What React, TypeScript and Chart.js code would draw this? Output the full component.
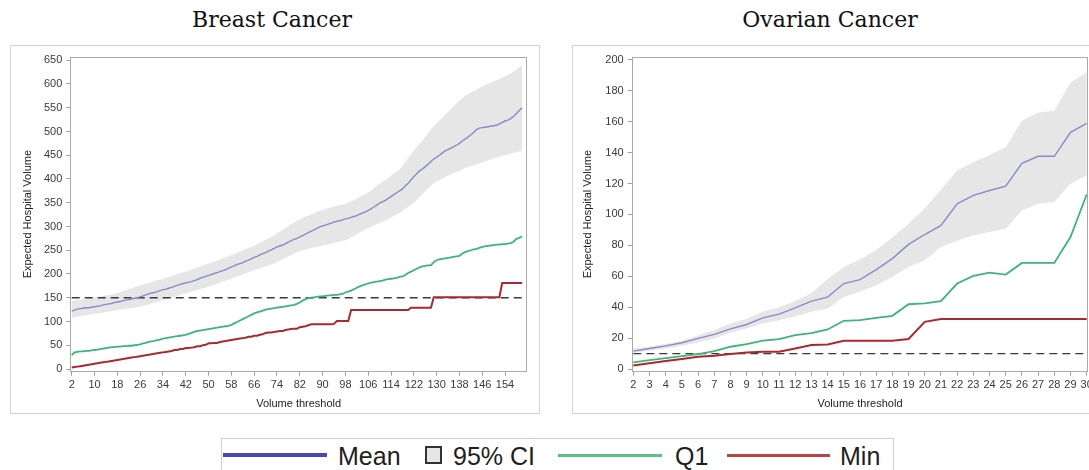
import React, { useEffect, useRef } from "react";
import { Chart, registerables } from "chart.js";

Chart.register(...registerables);

// ---------------- Breast cancer data ----------------
const breastThresholds = [
  2, 3, 4, 5, 6, 7, 8, 9, 10, 11, 12, 13, 14, 15, 16, 17, 18, 19, 20, 21,
  22, 23, 24, 25, 26, 27, 28, 29, 30, 31, 32, 33, 34, 35, 36, 37, 38, 39, 40, 41,
  42, 43, 44, 45, 46, 47, 48, 49, 50, 51, 52, 53, 54, 55, 56, 57, 58, 59, 60, 61,
  62, 63, 64, 65, 66, 67, 68, 69, 70, 71, 72, 73, 74, 75, 76, 77, 78, 79, 80, 81,
  82, 83, 84, 85, 86, 87, 88, 89, 90, 91, 92, 93, 94, 95, 96, 97, 98, 99, 100, 101,
  102, 103, 104, 105, 106, 107, 108, 109, 110, 111, 112, 113, 114, 115, 116, 117, 118, 119, 120, 121,
  122, 123, 124, 125, 126, 127, 128, 129, 130, 131, 132, 133, 134, 135, 136, 137, 138, 139, 140, 141,
  142, 143, 144, 145, 146, 147, 148, 149, 150, 151, 152, 153, 154, 155, 156, 157, 158, 159, 160,
];
const breastMean = [
  122, 124, 126, 127, 128, 129, 129, 130, 131, 132, 133, 135, 136, 137, 138, 140, 141, 142, 144, 145,
  146, 147, 149, 150, 152, 154, 156, 158, 160, 161, 163, 165, 167, 168, 170, 172, 174, 176, 178, 180,
  181, 183, 184, 186, 188, 191, 193, 195, 197, 199, 201, 203, 205, 207, 209, 212, 215, 217, 220, 222,
  224, 227, 229, 232, 235, 237, 240, 243, 245, 248, 251, 254, 257, 259, 261, 264, 267, 270, 273, 275,
  278, 281, 284, 287, 290, 293, 296, 299, 301, 303, 305, 307, 309, 311, 312, 314, 316, 317, 319, 321,
  323, 326, 328, 331, 334, 337, 341, 345, 349, 352, 355, 359, 363, 367, 371, 375, 379, 385, 391, 398,
  405, 411, 417, 421, 426, 431, 437, 442, 446, 450, 455, 459, 462, 465, 468, 471, 475, 480, 484, 488,
  493, 498, 504, 507, 508, 509, 510, 511, 512, 513, 516, 519, 522, 524, 527, 532, 538, 544, 550,
];
const breastUpper = [
  143, 144, 145, 146, 147, 148, 149, 149, 150, 151, 152, 153, 155, 156, 157, 158, 160, 162, 164, 166,
  168, 170, 172, 174, 176, 178, 180, 181, 183, 185, 187, 188, 190, 192, 194, 196, 198, 200, 202, 203,
  205, 207, 209, 211, 213, 216, 218, 220, 222, 224, 226, 228, 231, 233, 235, 237, 240, 242, 245, 247,
  250, 252, 255, 257, 260, 263, 266, 269, 272, 275, 278, 281, 285, 289, 293, 297, 301, 305, 309, 312,
  315, 318, 321, 323, 326, 328, 331, 333, 335, 337, 339, 340, 342, 343, 345, 346, 348, 350, 353, 356,
  359, 362, 365, 368, 372, 376, 381, 386, 390, 394, 398, 402, 407, 412, 416, 420, 428, 436, 444, 452,
  460, 467, 474, 480, 488, 497, 505, 511, 517, 523, 529, 535, 541, 547, 553, 559, 565, 570, 575, 578,
  582, 585, 588, 592, 595, 598, 600, 603, 605, 608, 610, 613, 616, 619, 622, 626, 630, 635, 640,
];
const breastLower = [
  108, 109, 110, 111, 112, 113, 114, 115, 116, 117, 118, 119, 120, 121, 122, 123, 124, 125, 126, 127,
  128, 129, 129, 130, 131, 133, 134, 136, 138, 140, 141, 143, 145, 147, 149, 150, 152, 154, 156, 158,
  159, 161, 163, 164, 166, 168, 170, 171, 173, 175, 177, 179, 182, 184, 186, 188, 190, 193, 195, 197,
  199, 202, 204, 206, 208, 210, 212, 214, 216, 218, 220, 222, 225, 228, 231, 234, 237, 240, 243, 246,
  248, 250, 251, 253, 254, 256, 257, 258, 260, 261, 262, 264, 265, 267, 268, 270, 271, 273, 277, 280,
  284, 287, 291, 294, 297, 300, 302, 305, 308, 310, 313, 316, 319, 322, 326, 329, 333, 337, 341, 346,
  350, 356, 362, 368, 374, 380, 386, 391, 395, 398, 401, 404, 407, 410, 412, 415, 417, 420, 423, 425,
  427, 429, 431, 433, 435, 437, 439, 441, 443, 445, 447, 449, 450, 452, 453, 455, 456, 458, 459,
];
const breastQ1 = [
  29, 35, 36, 37, 37, 38, 38, 39, 40, 41, 42, 43, 44, 45, 46, 46, 47, 47, 48, 48,
  49, 49, 50, 51, 52, 54, 55, 57, 58, 59, 61, 62, 64, 65, 66, 67, 68, 69, 70, 71,
  72, 74, 76, 78, 80, 81, 82, 83, 84, 85, 86, 87, 88, 89, 90, 91, 93, 96, 99, 102,
  105, 108, 111, 114, 117, 119, 121, 123, 125, 126, 127, 128, 129, 130, 131, 132, 133, 134, 135, 137,
  140, 144, 147, 149, 150, 151, 152, 153, 153, 154, 155, 155, 156, 156, 157, 158, 161, 163, 165, 168,
  171, 174, 176, 178, 180, 182, 183, 184, 185, 186, 188, 189, 190, 191, 192, 194, 195, 198, 202, 205,
  208, 211, 214, 216, 217, 218, 218, 225, 229, 231, 232, 233, 234, 235, 236, 237, 238, 243, 246, 248,
  250, 252, 253, 255, 257, 258, 259, 260, 261, 262, 262, 263, 263, 264, 265, 268, 274, 276, 279,
];
const breastMin = [
  3, 4, 5, 6, 7, 8, 9, 10, 11, 12, 13, 14, 15, 16, 17, 18, 19, 20, 21, 22,
  23, 24, 25, 26, 27, 28, 29, 30, 31, 32, 33, 34, 35, 36, 37, 38, 40, 40, 42, 42,
  44, 44, 45, 46, 48, 48, 50, 51, 54, 54, 55, 55, 57, 58, 59, 60, 61, 62, 63, 64,
  65, 66, 68, 68, 70, 70, 72, 73, 76, 77, 77, 78, 79, 80, 80, 82, 83, 84, 85, 85,
  88, 89, 90, 92, 94, 94, 94, 94, 94, 94, 94, 94, 95, 101, 101, 101, 101, 101, 124, 124,
  124, 124, 124, 124, 124, 124, 124, 124, 124, 124, 124, 124, 124, 124, 124, 124, 124, 124, 124, 129,
  129, 129, 129, 129, 129, 129, 129, 151, 151, 151, 151, 151, 151, 151, 151, 151, 151, 151, 151, 151,
  151, 151, 151, 151, 151, 151, 151, 151, 151, 151, 151, 181, 181, 181, 181, 181, 181, 181, 181,
];
const breastReference = 150;
const breastXTicks = [2, 10, 18, 26, 34, 42, 50, 58, 66, 74, 82, 90, 98, 106, 114, 122, 130, 138, 146, 154];
const breastYTicks = [0, 50, 100, 150, 200, 250, 300, 350, 400, 450, 500, 550, 600, 650];

// ---------------- Ovarian cancer data ----------------
const ovarianThresholds = [2, 3, 4, 5, 6, 7, 8, 9, 10, 11, 12, 13, 14, 15, 16, 17, 18, 19, 20, 21, 22, 23, 24, 25, 26, 27, 28, 29, 30];
const ovarianMean = [11.6, 13.3, 15, 17, 19.8, 22.4, 26, 28.8, 33.1, 35.5, 39.6, 43.9, 46.5, 55.3, 57.8, 64.3, 71.4, 80.6, 87, 92.9, 106.9, 112.3, 115.5, 118.3, 133.1, 137.6, 137.6, 153.1, 158.9];
const ovarianUpper = [13.3, 14.5, 16.2, 18.2, 21.8, 25, 29.5, 32.5, 37, 40, 44, 49, 58, 66, 71, 77, 85, 94, 104, 116, 128.4, 133.8, 138.5, 143.5, 160.6, 166, 167.1, 185.4, 191.8];
const ovarianLower = [10.5, 11.8, 13.3, 15, 17.2, 19.8, 23.4, 26.2, 29.5, 31.6, 34, 37, 39, 46.6, 49.9, 54.2, 59.6, 66, 70.3, 78.9, 83, 86.5, 88.6, 90.7, 102.6, 106.9, 108, 119.8, 125.2];
const ovarianQ1 = [4.3, 5.8, 7.1, 8.4, 9.7, 11.6, 14.4, 16.1, 18.3, 19.4, 21.9, 23.2, 25.6, 31.2, 31.6, 33.1, 34.4, 41.9, 42.4, 43.9, 55.3, 60.2, 62.4, 61.1, 68.6, 68.6, 68.6, 85.4, 112.9];
const ovarianMin = [2.2, 3.7, 5.2, 6.5, 8, 8.6, 9.7, 10.7, 11.2, 11.2, 13.3, 15.5, 15.9, 18.3, 18.3, 18.3, 18.3, 19.4, 30.5, 32.3, 32.3, 32.3, 32.3, 32.3, 32.3, 32.3, 32.3, 32.3, 32.3];
const ovarianReference = 10;
const ovarianXTicks = [2, 3, 4, 5, 6, 7, 8, 9, 10, 11, 12, 13, 14, 15, 16, 17, 18, 19, 20, 21, 22, 23, 24, 25, 26, 27, 28, 29, 30];
const ovarianYTicks = [0, 20, 40, 60, 80, 100, 120, 140, 160, 180, 200];

const legendLabels = ["Mean", "95% CI", "Q1", "Min"];
const xAxisTitle = "Volume threshold";
const yAxisTitle = "Expected Hospital Volume";

const SANS = "'Liberation Sans', Arial, Helvetica, sans-serif";

const framePlugin = {
  id: "frame",
  afterDraw(chart: any) {
    const { ctx, chartArea: a } = chart;
    ctx.save();
    ctx.strokeStyle = "#a9a9a9";
    ctx.lineWidth = 1;
    const l = Math.round(a.left) + 0.5;
    const t = Math.round(a.top) + 0.5;
    const r = Math.round(a.right) - 0.5;
    const b = Math.round(a.bottom) - 0.5;
    ctx.strokeRect(l, t, r - l, b - t);
    ctx.restore();
  },
};

type PanelSpec = {
  xs: number[];
  mean: number[];
  upper: number[];
  lower: number[];
  q1: number[];
  min: number[];
  reference: number;
  xTicks: number[];
  yTicks: number[];
  xMin: number;
  xMax: number;
  yMin: number;
  yMax: number;
  padTop: number;
  padRight: number;
  yWidth: number;
  xHeight: number;
  yTitlePad: number;
};

function pts(xs: number[], ys: number[]) {
  return xs.map((x, i) => ({ x, y: ys[i] }));
}

function makeConfig(s: PanelSpec): any {
  const first = s.xs[0];
  const last = s.xs[s.xs.length - 1];
  const line = { pointRadius: 0, tension: 0, fill: false };
  return {
    type: "line",
    data: {
      datasets: [
        { ...line, label: "Mean", data: pts(s.xs, s.mean), borderColor: "#8a8ac6", borderWidth: 1.4 },
        { ...line, label: "Q1", data: pts(s.xs, s.q1), borderColor: "#3db47a", borderWidth: 1.8 },
        { ...line, label: "Min", data: pts(s.xs, s.min), borderColor: "#a82a30", borderWidth: 2 },
        {
          ...line,
          label: "ref",
          data: [{ x: first, y: s.reference }, { x: last, y: s.reference }],
          borderColor: "#3a3a3a",
          borderWidth: 1.3,
          borderDash: [8, 5],
        },
        { ...line, label: "CI lower", data: pts(s.xs, s.lower), borderColor: "rgba(0,0,0,0)", borderWidth: 1 },
        {
          ...line,
          label: "CI upper",
          data: pts(s.xs, s.upper),
          borderColor: "rgba(0,0,0,0)",
          borderWidth: 1,
          fill: "-1",
          backgroundColor: "#e6e6e6",
        },
      ],
    },
    options: {
      responsive: false,
      animation: false,
      events: [],
      layout: { padding: { top: s.padTop, right: s.padRight, left: 0, bottom: 0 } },
      plugins: { legend: { display: false }, tooltip: { enabled: false }, title: { display: false } },
      scales: {
        x: {
          type: "linear",
          min: s.xMin,
          max: s.xMax,
          afterBuildTicks: (sc: any) => {
            sc.ticks = s.xTicks.map((v) => ({ value: v }));
          },
          afterFit: (sc: any) => {
            sc.height = s.xHeight;
          },
          grid: { display: true, drawOnChartArea: false, drawTicks: true, tickLength: 4, color: "#a0a0a0" },
          border: { display: false },
          ticks: {
            autoSkip: false,
            maxRotation: 0,
            minRotation: 0,
            padding: 3,
            color: "#3a3a3a",
            font: { family: SANS, size: 11 },
            callback: (v: any) => String(v),
          },
          title: {
            display: true,
            text: xAxisTitle,
            color: "#222",
            font: { family: SANS, size: 11 },
            padding: { top: 0, bottom: 2.4 },
          },
        },
        y: {
          type: "linear",
          min: s.yMin,
          max: s.yMax,
          afterBuildTicks: (sc: any) => {
            sc.ticks = s.yTicks.map((v) => ({ value: v }));
          },
          afterFit: (sc: any) => {
            sc.width = s.yWidth;
          },
          grid: { display: true, drawOnChartArea: false, drawTicks: true, tickLength: 4, color: "#a0a0a0" },
          border: { display: false },
          ticks: {
            padding: 4,
            color: "#3a3a3a",
            font: { family: SANS, size: 11 },
            callback: (v: any) => String(v),
          },
          title: {
            display: true,
            text: yAxisTitle,
            color: "#222",
            font: { family: SANS, size: 11 },
            padding: { top: s.yTitlePad, bottom: 0 },
          },
        },
      },
    },
    plugins: [framePlugin],
  };
}

function ChartCanvas({ spec, width, height }: { spec: PanelSpec; width: number; height: number }) {
  const ref = useRef<HTMLCanvasElement | null>(null);
  useEffect(() => {
    if (!ref.current) return;
    const chart = new Chart(ref.current, makeConfig(spec));
    return () => chart.destroy();
  }, []);
  return (
    <canvas
      ref={ref}
      width={width}
      height={height}
      style={{ position: "absolute", left: 0, top: 0, width, height, display: "block" }}
    />
  );
}

const breastSpec: PanelSpec = {
  xs: breastThresholds,
  mean: breastMean,
  upper: breastUpper,
  lower: breastLower,
  q1: breastQ1,
  min: breastMin,
  reference: breastReference,
  xTicks: breastXTicks,
  yTicks: breastYTicks,
  xMin: 1.5,
  xMax: 161.7,
  yMin: -5.67,
  yMax: 657.6,
  padTop: 9.7,
  padRight: 12,
  yWidth: 59.3,
  xHeight: 41.3,
  yTitlePad: 10.7,
};

const ovarianSpec: PanelSpec = {
  xs: ovarianThresholds,
  mean: ovarianMean,
  upper: ovarianUpper,
  lower: ovarianLower,
  q1: ovarianQ1,
  min: ovarianMin,
  reference: ovarianReference,
  xTicks: ovarianXTicks,
  yTicks: ovarianYTicks,
  xMin: 1.9,
  xMax: 30.1,
  yMin: -1.74,
  yMax: 202.1,
  padTop: 9.7,
  padRight: 24.7,
  yWidth: 58.7,
  xHeight: 41.3,
  yTitlePad: 8.7,
};

const titleStyle: React.CSSProperties = {
  position: "absolute",
  width: 400,
  textAlign: "center",
  fontFamily: "'DejaVu Serif', serif",
  fontSize: 22,
  lineHeight: "22px",
  color: "#111",
  whiteSpace: "nowrap",
};

const legendText: React.CSSProperties = {
  position: "absolute",
  top: 444,
  fontFamily: SANS,
  fontSize: 25,
  lineHeight: "25px",
  color: "#1e1e1e",
  whiteSpace: "nowrap",
};

export default function App() {
  return (
    <div
      style={{
        position: "fixed",
        left: 0,
        top: 0,
        width: 1089,
        height: 470,
        overflow: "hidden",
        background: "#fff",
      }}
    >
      <div style={{ ...titleStyle, left: 272 - 200, top: 9.4 }}>Breast Cancer</div>
      <div style={{ ...titleStyle, left: 830 - 200, top: 9.4 }}>Ovarian Cancer</div>

      <div
        style={{
          position: "absolute",
          left: 10,
          top: 45,
          width: 528,
          height: 367,
          border: "1px solid #d4d4d4",
        }}
      >
        <ChartCanvas spec={breastSpec} width={528} height={367} />
      </div>

      <div
        style={{
          position: "absolute",
          left: 572,
          top: 45,
          width: 600,
          height: 367,
          border: "1px solid #d4d4d4",
        }}
      >
        <ChartCanvas spec={ovarianSpec} width={540} height={367} />
      </div>

      <div
        style={{
          position: "absolute",
          left: 221,
          top: 438,
          width: 671,
          height: 40,
          border: "1px solid #cfcfcf",
        }}
      />
      <div style={{ position: "absolute", left: 223, top: 453, width: 104, height: 4, background: "#4646b8" }} />
      <div style={{ ...legendText, left: 338 }}>{legendLabels[0]}</div>
      <div
        style={{
          position: "absolute",
          left: 425,
          top: 446,
          width: 13,
          height: 14,
          border: "2px solid #333",
          background: "#e6e6e6",
        }}
      />
      <div style={{ ...legendText, left: 453 }}>{legendLabels[1]}</div>
      <div style={{ position: "absolute", left: 558, top: 453.5, width: 104, height: 3, background: "#5cc08a" }} />
      <div style={{ ...legendText, left: 675 }}>{legendLabels[2]}</div>
      <div style={{ position: "absolute", left: 727, top: 453.5, width: 103, height: 3, background: "#b84444" }} />
      <div style={{ ...legendText, left: 840 }}>{legendLabels[3]}</div>
    </div>
  );
}
